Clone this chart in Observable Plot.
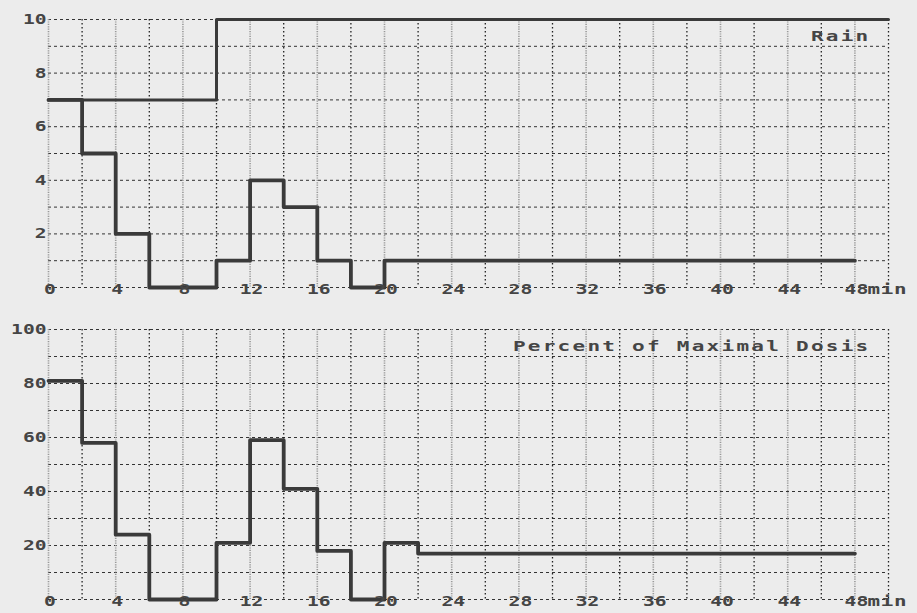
<!DOCTYPE html>
<html>
<head>
<meta charset="utf-8">
<script src="https://cdn.jsdelivr.net/npm/d3@7"></script>
<script src="https://cdn.jsdelivr.net/npm/@observablehq/plot@0.6"></script>
<style>
  html, body { margin: 0; padding: 0; background: #ececec; }
  #chart { width: 917px; height: 613px; overflow: hidden; }
  #chart svg { display: block; }
</style>
</head>
<body>
<div id="chart"></div>
<script>
// ---- data ----
const rainTime  = [0, 2, 4, 6, 10, 12, 14, 16, 18, 20, 48];
const rainValue = [7, 5, 2, 0, 1, 4, 3, 1, 0, 1, 1];
const rainMaxTime  = [0, 10, 50];
const rainMaxValue = [7, 10, 10];
const doseTime  = [0, 2, 4, 6, 10, 12, 14, 16, 18, 20, 22, 48];
const doseValue = [81, 58, 24, 0, 21, 59, 41, 18, 0, 21, 17, 17];

const xTicks = [0, 4, 8, 12, 16, 20, 24, 28, 32, 36, 40, 44, 48];
const xGrid = [0, 2, 4, 6, 8, 10, 12, 14, 16, 18, 20, 22, 24, 26, 28, 30, 32, 34, 36, 38, 40, 42, 44, 46, 48, 50];
const rainYTicks = [2, 4, 6, 8, 10];
const rainYGrid = [0, 1, 2, 3, 4, 5, 6, 7, 8, 9, 10];
const doseYTicks = [20, 40, 60, 80, 100];
const doseYGrid = [0, 10, 20, 30, 40, 50, 60, 70, 80, 90, 100];
const rainTitle = "Rain";
const doseTitle = "Percent of Maximal Dosis";
const xUnit = "min";

const toRows = (t, v) => t.map((x, i) => ({x, y: v[i]}));
const rain = toRows(rainTime, rainValue);
const rainMax = toRows(rainMaxTime, rainMaxValue);
const dose = toRows(doseTime, doseValue);

const FONT = "DejaVu Sans Mono";
const INK = "#3a3a3a";
const TXT = "#454545";
const FS = 14;
// character pitch (px per character) of the old plotter font
const TICK_PITCH = 11.8, TITLE_PITCH = 14.9, UNIT_PITCH = 13.3;

function gridMarks(yGrid) {
  return [
    Plot.ruleY(yGrid, {stroke: "#333", strokeWidth: 1, strokeDasharray: "3,3"}),
    Plot.ruleX(xGrid.filter(d => d % 4 === 2), {stroke: "#222", strokeWidth: 1.3, strokeDasharray: "1.5,2.5"}),
    Plot.ruleX(xGrid.filter(d => d % 4 === 0), {stroke: "#999", strokeWidth: 1.6, strokeDasharray: "1.2,1.2"})
  ];
}

function labelMarks(yTicks, title) {
  return [
    Plot.text(xTicks, {x: d => d, frameAnchor: "bottom", dy: 6, dx: 1.5, text: d => String(d),
      fontFamily: FONT, fontWeight: "bold", fontSize: FS, fill: TXT}),
    Plot.text(yTicks, {y: d => d, frameAnchor: "left", textAnchor: "end", dx: -2, text: d => String(d),
      fontFamily: FONT, fontWeight: "bold", fontSize: FS, fill: TXT}),
    Plot.text([xUnit], {frameAnchor: "bottom-right", textAnchor: "start", dx: -21, dy: 6, text: d => d,
      fontFamily: FONT, fontWeight: "bold", fontSize: FS, fill: TXT}),
    Plot.text([title], {frameAnchor: "top-right", textAnchor: "end", dx: -18, dy: 12, text: d => d,
      fontFamily: FONT, fontWeight: "bold", fontSize: FS, fill: TXT})
  ];
}

const common = {
  width: 917,
  marginLeft: 48,
  marginRight: 29,
  style: {background: "#ececec", overflow: "visible"},
  x: {domain: [0, 50], axis: null}
};

const topPlot = Plot.plot({
  ...common,
  height: 310,
  marginTop: 19,
  marginBottom: 23,
  y: {domain: [0, 10], axis: null},
  marks: [
    ...gridMarks(rainYGrid),
    Plot.line(rainMax, {x: "x", y: "y", curve: "step-after", stroke: INK, strokeWidth: 3}),
    Plot.line(rain, {x: "x", y: "y", curve: "step-after", stroke: INK, strokeWidth: 3.8}),
    ...labelMarks(rainYTicks, rainTitle)
  ]
});

const bottomPlot = Plot.plot({
  ...common,
  height: 303,
  marginTop: 19,
  marginBottom: 14,
  y: {domain: [0, 100], axis: null},
  marks: [
    ...gridMarks(doseYGrid),
    Plot.line(dose, {x: "x", y: "y", curve: "step-after", stroke: INK, strokeWidth: 3.8}),
    ...labelMarks(doseYTicks, doseTitle)
  ]
});

// stretch glyphs to mimic the wide plotter font
function widenText(svg) {
  d3.select(svg).selectAll("text").each(function () {
    const t = this.textContent;
    let pitch = TICK_PITCH, ls = 0;
    if (t === rainTitle || t === doseTitle) { pitch = TITLE_PITCH; ls = 1.5; }
    else if (t === xUnit) { pitch = UNIT_PITCH; ls = 0.5; }
    this.setAttribute("letter-spacing", ls);
    this.setAttribute("textLength", (t.length * pitch).toFixed(1));
    this.setAttribute("lengthAdjust", "spacingAndGlyphs");
  });
}
widenText(topPlot);
widenText(bottomPlot);

const el = document.getElementById("chart");
el.appendChild(topPlot);
el.appendChild(bottomPlot);
</script>
</body>
</html>
